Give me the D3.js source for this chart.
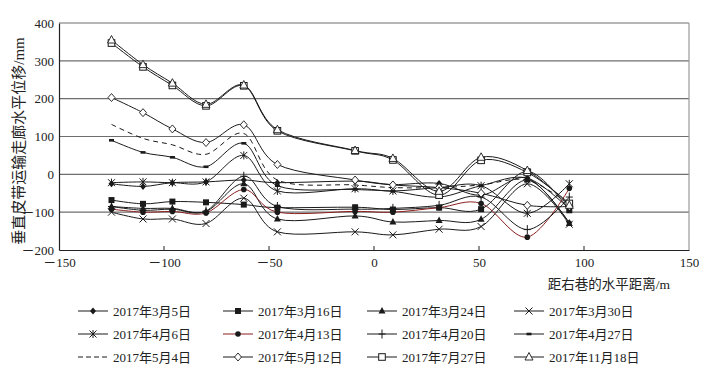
<!DOCTYPE html>
<html>
<head>
<meta charset="utf-8">
<script src="https://cdn.jsdelivr.net/npm/d3@7"></script>
<style>
  body { margin: 0; background: #fff; }
  text { font-family: "Liberation Serif", "Noto Sans CJK SC", serif; fill: #222; }
</style>
</head>
<body>
<svg id="chart" width="706" height="372"></svg>
<script>
// distance from right roadway (m)
const xs = [-125, -110, -96, -80, -62, -46, -9, 9, 31, 51, 73, 93];

const names = ['2017年3月5日', '2017年3月16日', '2017年3月24日', '2017年3月30日',
               '2017年4月6日', '2017年4月13日', '2017年4月20日', '2017年4月27日',
               '2017年5月4日', '2017年5月12日', '2017年7月27日', '2017年11月18日'];

const mar05 = [-25, -32, -22, -20, -15, -22, -18, -27, -24, -55, -10, -128];
const mar16 = [-68, -78, -72, -74, -80, -88, -87, -93, -88, -92, 8, -95];
const mar24 = [-85, -90, -90, -98, -25, -118, -110, -126, -122, -119, -15, -130];
const mar30 = [-100, -118, -118, -130, -63, -152, -152, -160, -145, -138, -25, -132];
const apr06 = [-22, -20, -22, -20, 50, -44, -38, -44, -35, -30, -103, -25];
const apr13 = [-92, -100, -98, -102, -40, -100, -98, -100, -88, -77, -166, -37];
const apr20 = [-85, -95, -92, -97, -5, -85, -92, -90, -82, -60, -146, -60];
const apr27 = [90, 58, 45, 20, 82, -30, -40, -45, -60, -30, -10, -92];
const may04 = [132, 95, 78, 53, 108, -15, -28, -35, -35, -28, -15, -80];
const may12 = [203, 163, 120, 84, 131, 26, -15, -28, -35, -50, -82, -85];
const jul27 = [347, 284, 235, 181, 234, 115, 62, 38, -55, 37, 5, -77];
const nov18 = [355, 290, 241, 185, 236, 118, 63, 42, -45, 45, 10, -82];

const seriesValues = [mar05, mar16, mar24, mar30, apr06, apr13, apr20, apr27, may04, may12, jul27, nov18];
const markers = ['diamondF', 'squareF', 'triangleF', 'cross', 'star', 'circle', 'plus', 'dash', 'none', 'diamondO', 'squareO', 'triangleO'];

const xTicks = [-150, -100, -50, 0, 50, 100, 150];
const yTicks = [-200, -100, 0, 100, 200, 300, 400];

const svg = d3.select('#chart');
const margin = { top: 23, right: 17, bottom: 122, left: 59 };
const width = 706, height = 372;
const innerWidth = width - margin.left - margin.right;
const innerHeight = height - margin.top - margin.bottom;

const xScale = d3.scaleLinear().domain([-150, 150]).range([0, innerWidth]);
const yScale = d3.scaleLinear().domain([-200, 400]).range([innerHeight, 0]);

const fmt = d => d < 0 ? '－' + Math.abs(d) : d;

const g = svg.append('g').attr('transform', `translate(${margin.left},${margin.top})`);

// gridlines
g.append('g')
    .selectAll('line')
    .data(yTicks.filter(d => d > -200))
    .join('line')
    .attr('x1', 0).attr('x2', innerWidth)
    .attr('y1', d => yScale(d)).attr('y2', d => yScale(d))
    .style('stroke', '#6e6e6e')
    .style('stroke-width', 1.2);

// right border
g.append('line')
    .attr('x1', innerWidth).attr('x2', innerWidth)
    .attr('y1', 0).attr('y2', innerHeight)
    .style('stroke', '#999').style('stroke-width', 1.2);

// axes
const yAxis = g.append('g')
    .call(d3.axisLeft(yScale).tickValues(yTicks).tickSize(0).tickPadding(5).tickFormat(fmt));
yAxis.select('.domain').style('stroke', '#222').style('stroke-width', 1.2);
yAxis.selectAll('text').style('font-size', '13px');

const xAxis = g.append('g')
    .attr('transform', `translate(0,${innerHeight})`)
    .call(d3.axisBottom(xScale).tickValues(xTicks).tickSize(0).tickPadding(8).tickFormat(fmt));
xAxis.select('.domain').style('stroke', '#222').style('stroke-width', 1.2);
xAxis.selectAll('text').style('font-size', '13px');

// small inward ticks
g.append('g')
    .selectAll('line')
    .data(xTicks.filter(d => d > -150 && d < 150))
    .join('line')
    .attr('x1', d => xScale(d)).attr('x2', d => xScale(d))
    .attr('y1', innerHeight).attr('y2', innerHeight - 4)
    .style('stroke', '#222');

// marker drawing
function drawMarker(sel, type, x, y) {
    const m = sel.append('g').attr('transform', `translate(${x},${y})`);
    const c = '#1a1a1a';
    switch (type) {
        case 'diamondF':
            m.append('path').attr('d', 'M0,-3.5L3,0L0,3.5L-3,0Z').style('fill', c);
            break;
        case 'diamondO':
            m.append('path').attr('d', 'M0,-4L3.5,0L0,4L-3.5,0Z').style('fill', '#fff').style('stroke', c).style('stroke-width', 0.9);
            break;
        case 'squareF':
            m.append('rect').attr('x', -3).attr('y', -3).attr('width', 6).attr('height', 6).style('fill', c);
            break;
        case 'squareO':
            m.append('rect').attr('x', -3.3).attr('y', -3.3).attr('width', 6.6).attr('height', 6.6).style('fill', '#fff').style('stroke', c).style('stroke-width', 1);
            break;
        case 'triangleF':
            m.append('path').attr('d', 'M0,-4L3.5,2.5L-3.5,2.5Z').style('fill', c);
            break;
        case 'triangleO':
            m.append('path').attr('d', 'M0,-4.5L4,3L-4,3Z').style('fill', '#fff').style('stroke', c).style('stroke-width', 0.9);
            break;
        case 'cross':
            m.append('path').attr('d', 'M-3.5,-3.5L3.5,3.5M-3.5,3.5L3.5,-3.5').style('stroke', c).style('stroke-width', 1);
            break;
        case 'star':
            m.append('path').attr('d', 'M-3.5,-3.5L3.5,3.5M-3.5,3.5L3.5,-3.5M0,-4L0,4').style('stroke', c).style('stroke-width', 1);
            break;
        case 'circle':
            m.append('circle').attr('r', 2.8).style('fill', c);
            break;
        case 'plus':
            m.append('path').attr('d', 'M-3.5,0L3.5,0M0,-4.5L0,4.5').style('stroke', c).style('stroke-width', 1);
            break;
        case 'dash':
            m.append('rect').attr('x', -2.5).attr('y', -1.3).attr('width', 5).attr('height', 2.6).style('fill', c);
            break;
    }
}

const line = d3.line()
    .x((d, i) => xScale(xs[i]))
    .y(d => yScale(d))
    .curve(d3.curveCardinal.tension(0));

seriesValues.forEach((vals, k) => {
    const color = k == 5 ? '#8b1f1f' : '#1a1a1a';
    g.append('path')
        .datum(vals)
        .style('fill', 'none')
        .style('stroke', color)
        .style('stroke-width', 1)
        .style('stroke-dasharray', markers[k] == 'none' ? '5,4' : null)
        .attr('d', line);
});

seriesValues.forEach((vals, k) => {
    vals.forEach((v, i) => drawMarker(g, markers[k], xScale(xs[i]), yScale(v)));
});

// axis titles
svg.append('text')
    .attr('x', 670)
    .attr('y', 289)
    .style('text-anchor', 'end')
    .style('font-size', '13.5px')
    .text('距右巷的水平距离/m');

svg.append('text')
    .attr('transform', 'rotate(-90)')
    .attr('x', -141)
    .attr('y', 24)
    .style('text-anchor', 'middle')
    .style('font-size', '15px')
    .text('垂直皮带运输走廊水平位移/mm');

// legend
const colX = [78, 223, 367, 514];
const rowY = [311, 334, 357];
const legend = svg.append('g');
names.forEach((name, k) => {
    const cx = colX[k % 4], cy = rowY[Math.floor(k / 4)];
    const color = k == 5 ? '#8b1f1f' : '#1a1a1a';
    legend.append('line')
        .attr('x1', cx).attr('x2', cx + 30)
        .attr('y1', cy).attr('y2', cy)
        .style('stroke', color)
        .style('stroke-width', 1)
        .style('stroke-dasharray', markers[k] == 'none' ? '5,3' : null);
    drawMarker(legend, markers[k], cx + 15, cy);
    legend.append('text')
        .attr('x', cx + 35)
        .attr('y', cy + 4.5)
        .style('font-size', '13px')
        .text(name);
});
</script>
</body>
</html>
